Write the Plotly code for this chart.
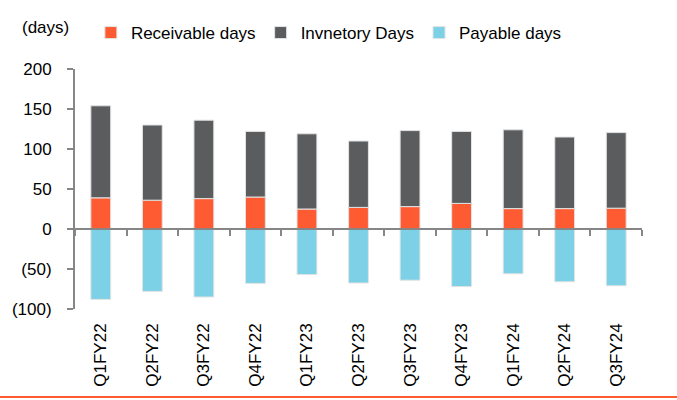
import plotly.graph_objects as go

categories = ["Q1FY22", "Q2FY22", "Q3FY22", "Q4FY22", "Q1FY23", "Q2FY23",
              "Q3FY23", "Q4FY23", "Q1FY24", "Q2FY24", "Q3FY24"]
receivable_days = [39, 36, 38, 40, 25, 27, 28, 32, 25.5, 25.5, 26]
inventory_days = [115, 94, 98, 82, 94, 83, 95, 90, 98.5, 89.5, 94.5]
payable_days = [-88, -78, -85, -68, -57, -67.5, -64, -72, -56, -66, -71]
ytick_vals = [-100, -50, 0, 50, 100, 150, 200]
ytick_text = ["(100)", "(50)", "0", "50", "100", "150", "200"]

C_REC = "#FF5B33"
C_INV = "#5B5C5E"
C_PAY = "#7DD1E6"
AXIS = "#868686"
FONT = "Liberation Sans, Arial, sans-serif"

fig = go.Figure()
for name, vals, col in [("Receivable days", receivable_days, C_REC),
                        ("Invnetory Days", inventory_days, C_INV),
                        ("Payable days", payable_days, C_PAY)]:
    fig.add_trace(go.Bar(x=categories, y=vals, name=name,
                         marker=dict(color=col, line=dict(color="#E3E3E3", width=1))))

# invisible helper trace so the zero-line axis carries the same categories
fig.add_trace(go.Scatter(x=categories, y=[0] * len(categories), xaxis="x2",
                         mode="markers", marker=dict(opacity=0), showlegend=False,
                         hoverinfo="skip"))

PW = 572.0
PH = 240.0
fig.update_layout(
    width=677, height=400,
    margin=dict(l=70, r=35, t=69, b=91),
    paper_bgcolor="white", plot_bgcolor="white",
    barmode="relative", bargap=0.615,
    font=dict(family=FONT, size=17, color="#000000"),
    showlegend=True,
    legend=dict(orientation="h", x=0.028, xanchor="left", y=1 + 36 / PH, yanchor="middle",
                font=dict(size=17), itemwidth=30, bgcolor="rgba(0,0,0,0)"),
    xaxis=dict(type="category", categoryorder="array", categoryarray=categories,
               range=[-0.5, len(categories) - 0.5],
               showline=False, ticks="", tickangle=-90, showgrid=False,
               ticklabelstandoff=10, tickfont=dict(size=17)),
    xaxis2=dict(type="category", categoryorder="array", categoryarray=categories,
                range=[-0.5, len(categories) - 0.5], overlaying="x",
                anchor="free", position=1/3, side="bottom",
                showline=True, linecolor=AXIS, linewidth=2,
                ticks="outside", tickson="boundaries", ticklen=6, tickwidth=2,
                tickcolor=AXIS, showticklabels=False, showgrid=False),
    yaxis=dict(range=[-100, 200], tickvals=ytick_vals, ticktext=ytick_text,
               showline=True, linecolor=AXIS, linewidth=2,
               ticks="outside", ticklen=6, tickwidth=2, tickcolor=AXIS,
               showgrid=False, zeroline=False, ticklabelstandoff=12,
               tickfont=dict(size=17)),
    annotations=[dict(text="(days)", xref="paper", yref="paper",
                      x=(15 - 70) / PW, y=1 + (69 - 28) / PH, xanchor="left", yanchor="middle",
                      showarrow=False, font=dict(size=17))],
    shapes=[dict(type="line", xref="paper", yref="paper",
                 x0=-1, x1=2, y0=(309 - 397) / PH, y1=(309 - 397) / PH,
                 line=dict(color=C_REC, width=2))],
)

fig.write_html("out.html", config={"displayModeBar": False},
               post_script="document.body.style.margin='0';document.body.style.padding='0';")
